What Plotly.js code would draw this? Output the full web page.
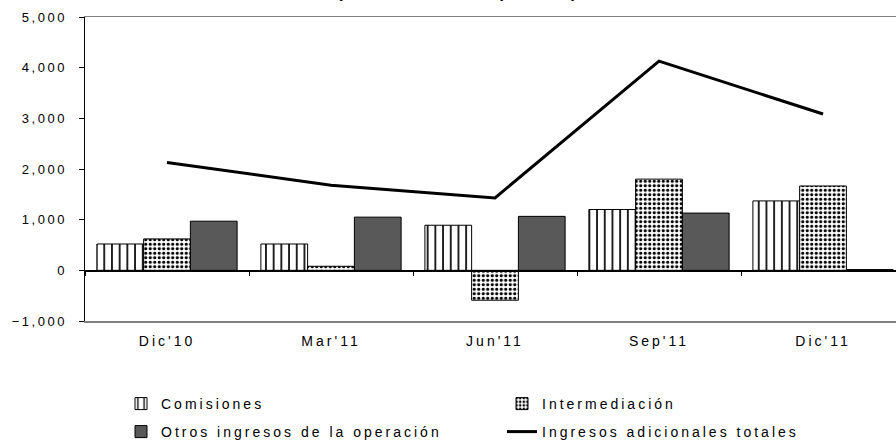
<!DOCTYPE html>
<html>
<head>
<meta charset="utf-8">
<script src="https://cdn.plot.ly/plotly-3.0.1.min.js"></script>
<style>
html,body{margin:0;padding:0;background:#fff;overflow:hidden}
#chart{width:896px;height:440px}
#chart .xtick text{letter-spacing:3px}
#chart .ytick text{letter-spacing:2.5px}
#chart .infolayer text{letter-spacing:3px}
#chart .infolayer text.gtitle{letter-spacing:4.5px}
</style>
</head>
<body>
<div id="chart"></div>
<script>
const categories = ["Dic'10", "Mar'11", "Jun'11", "Sep'11", "Dic'11"];
const comisiones = [520, 520, 890, 1200, 1370];
const intermediacion = [620, 80, -590, 1800, 1665];
const otrosIngresos = [970, 1050, 1065, 1130, 15];
const ingresosTotales = [2130, 1680, 1430, 4130, 3085];
const seriesNames = ["Comisiones", "Intermediación", "Otros ingresos de la operación", "Ingresos adicionales totales"];
const yTickVals = [-1000, 0, 1000, 2000, 3000, 4000, 5000];

const font = "Liberation Sans, Arial, sans-serif";
const outline = {color: 'black', width: 1};

const traces = [
  {type: 'bar', name: seriesNames[0], x: categories, y: comisiones, legend: 'legend',
   marker: {color: 'white', line: outline,
            pattern: {shape: '|', bgcolor: 'white', fgcolor: 'black', size: 7.7, solidity: 0.22, fillmode: 'replace'}},
   hoverinfo: 'skip'},
  {type: 'bar', name: seriesNames[1], x: categories, y: intermediacion, legend: 'legend',
   marker: {color: 'white', line: outline,
            pattern: {shape: '.', bgcolor: 'white', fgcolor: 'black', size: 4.5, solidity: 0.4, fillmode: 'replace'}},
   hoverinfo: 'skip'},
  {type: 'bar', name: seriesNames[2], x: categories, y: otrosIngresos, legend: 'legend2',
   marker: {color: '#595959', line: outline}, hoverinfo: 'skip'},
  {type: 'scatter', mode: 'lines', name: seriesNames[3], x: categories, y: ingresosTotales, legend: 'legend2',
   xaxis: 'x2', line: {color: 'black', width: 3}, hoverinfo: 'skip'}
];

const legendBase = {orientation: 'h', xref: 'container', x: 121 / 896, xanchor: 'left', yref: 'container',
                    yanchor: 'middle', entrywidth: 336, entrywidthmode: 'pixels',
                    font: {family: font, size: 14, color: 'black'}, itemwidth: 30, traceorder: 'normal',
                    bgcolor: 'rgba(0,0,0,0)'};

const layout = {
  width: 896, height: 440,
  margin: {l: 85, r: 0, t: 17, b: 119},
  paper_bgcolor: 'white', plot_bgcolor: 'white',
  font: {family: font, size: 12, color: 'black'},
  title: {text: '(millones de pesos)', font: {family: font, size: 17, color: 'black', weight: 'bold'},
          x: 459 / 896, xref: 'container', xanchor: 'center', y: 0.991, yref: 'container', yanchor: 'bottom',
          pad: {b: 6}},
  barmode: 'group', bargap: 0.145, bargroupgap: 0,
  showlegend: true,
  legend: Object.assign({}, legendBase, {y: 1 - 404 / 440}),
  legend2: Object.assign({}, legendBase, {y: 1 - 432 / 440}),
  xaxis: {type: 'category', range: [-0.5, 4.445], showline: true, linecolor: '#808080', linewidth: 1.5,
          mirror: true, ticks: '', showgrid: false, zeroline: false, ticklabelstandoff: 7,
          tickfont: {family: font, size: 14, color: 'black'}, fixedrange: true},
  xaxis2: {type: 'category', overlaying: 'x', matches: 'x', anchor: 'free', position: 1 / 6,
           showline: true, linecolor: 'black', linewidth: 1.2, ticks: 'outside', ticklen: 4,
           tickcolor: 'black', tickwidth: 1, tickson: 'boundaries', showticklabels: false,
           showgrid: false, zeroline: false, fixedrange: true},
  yaxis: {range: [-1000, 5000], tickvals: yTickVals, tickformat: ',', showline: true, linecolor: 'black',
          linewidth: 1.5, ticks: 'outside', ticklen: 5, tickcolor: 'black', showgrid: false,
          zeroline: false, ticklabelstandoff: 9, tickfont: {family: font, size: 13, color: 'black'},
          fixedrange: true}
};

const gd = document.getElementById('chart');
Plotly.newPlot(gd, traces, layout, {displayModeBar: false, staticPlot: true}).then(function () {
  gd.querySelectorAll('.infolayer text').forEach(function (t) {
    if (!t.classList.contains('gtitle')) {
      t.style.letterSpacing = '3px';
      t.setAttribute('letter-spacing', '3');
    }
  });
});
</script>
</body>
</html>
